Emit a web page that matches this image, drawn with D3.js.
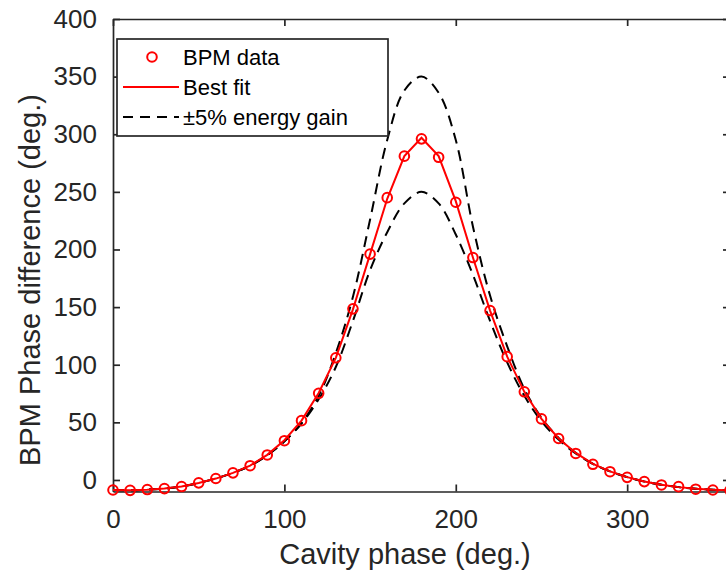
<!DOCTYPE html>
<html>
<head>
<meta charset="utf-8">
<script src="https://cdn.jsdelivr.net/npm/d3@7"></script>
<style>
  body { margin: 0; background: #fff; }
  svg { display: block; font-family: "Liberation Sans", Arial, Helvetica, sans-serif; }
</style>
</head>
<body>
<svg id="chart" width="726" height="570"></svg>
<script>
// cavity phase (deg.) sampled every 10 deg
const phase = [0, 10, 20, 30, 40, 50, 60, 70, 80, 90, 100, 110, 120, 130, 140, 150, 160, 170, 180,
    190, 200, 210, 220, 230, 240, 250, 260, 270, 280, 290, 300, 310, 320, 330, 340, 350, 360];

// BPM data points (deg.)
const bpmData = [-8.7, -9, -8.3, -7.5, -5.7, -2.5, 1.3, 6.2, 12.4, 21.7, 34.1, 51.5, 75.2, 106, 148.5, 196, 245, 281, 296,
    280, 241, 193, 147, 107, 76.5, 53, 36, 23, 13.6, 7.2, 2.3, -1.4, -4.3, -5.8, -8, -8.7, -9];

// best fit
const bestFit = [-8.7, -8.9, -8.4, -7.4, -5.6, -2.6, 1.2, 6.2, 12.5, 21.8, 34.5, 51.5, 75.5, 106, 148, 196, 244, 281, 297,
    281, 242, 193, 147, 107, 76.5, 53, 36, 23.5, 14, 7.5, 2.5, -1.3, -4.2, -6.2, -7.6, -8.5, -9];

// +5% / -5% energy gain
const upperGain = [-8.7, -8.9, -8.4, -7.4, -5.6, -2.6, 1.2, 6.2, 12.4, 21.5, 33.5, 49.5, 73, 110, 159, 226, 295, 338, 350,
    336, 295, 220, 160, 116, 79, 54, 36.5, 23.5, 14, 7.5, 2.5, -1.3, -4.2, -6.2, -7.6, -8.5, -9];
const lowerGain = [-8.7, -8.9, -8.4, -7.4, -5.6, -2.6, 1.2, 6.2, 12.4, 21.5, 33.5, 49, 70, 98, 138, 182, 215, 240, 250,
    240, 213, 178, 138, 102, 73, 51, 35, 23, 14, 7.5, 2.5, -1.3, -4.2, -6.2, -7.6, -8.5, -9];

const xTicks = [0, 100, 200, 300];
const yTicks = [0, 50, 100, 150, 200, 250, 300, 350, 400];

const legendItems = ["BPM data", "Best fit", "\u00b15% energy gain"];

const axisColor = "#262626";

const svg = d3.select("#chart");

const x = d3.scaleLinear().domain([0, 360]).range([113, 730]);
const y = d3.scaleLinear().domain([-10, 400]).range([491.5, 19]);

// axes (ticks pointing inward like matlab)
const bottomAxis = svg.append("g")
    .attr("transform", "translate(0," + y(-10) + ")")
    .call(d3.axisBottom(x).tickValues(xTicks).tickSizeInner(-7).tickSizeOuter(0).tickPadding(18));

const leftAxis = svg.append("g")
    .attr("transform", "translate(" + x(0) + ",0)")
    .call(d3.axisLeft(y).tickValues(yTicks).tickSizeInner(-7).tickSizeOuter(0).tickPadding(16));

const topAxis = svg.append("g")
    .attr("transform", "translate(0," + y(400) + ")")
    .call(d3.axisTop(x).tickValues(xTicks).tickSizeInner(-7).tickSizeOuter(0).tickFormat(""));

const rightAxis = svg.append("g")
    .attr("transform", "translate(" + x(360) + ",0)")
    .call(d3.axisRight(y).tickValues(yTicks).tickSizeInner(-7).tickSizeOuter(0).tickFormat(""));

[bottomAxis, leftAxis, topAxis, rightAxis].forEach(a => {
    a.selectAll("path, line").attr("stroke", axisColor).attr("stroke-width", 1.7);
    a.selectAll("text")
        .attr("fill", axisColor)
        .style("font-size", "26px")
        .style("font-family", "'Liberation Sans', Arial, sans-serif");
});

// axis labels
svg.append("text")
    .attr("x", 405)
    .attr("y", 564)
    .attr("text-anchor", "middle")
    .attr("fill", axisColor)
    .style("font-size", "29px")
    .text("Cavity phase (deg.)");

svg.append("text")
    .attr("transform", "translate(40,280) rotate(-90)")
    .attr("text-anchor", "middle")
    .attr("fill", axisColor)
    .style("font-size", "29px")
    .text("BPM Phase difference (deg.)");

// curves
const line = (vals, curve) => d3.line()
    .curve(curve)
    .x((d, i) => x(phase[i]))
    .y(d => y(d))(vals);

svg.append("path")
    .attr("d", line(upperGain, d3.curveCatmullRom))
    .attr("fill", "none")
    .attr("stroke", "#000")
    .attr("stroke-width", 2)
    .attr("stroke-dasharray", "11,7");

svg.append("path")
    .attr("d", line(lowerGain, d3.curveCatmullRom))
    .attr("fill", "none")
    .attr("stroke", "#000")
    .attr("stroke-width", 2)
    .attr("stroke-dasharray", "11,7");

svg.append("path")
    .attr("d", line(bestFit, d3.curveLinear))
    .attr("fill", "none")
    .attr("stroke", "#ff0000")
    .attr("stroke-width", 2);

svg.selectAll(".pt")
    .data(bpmData)
    .join("circle")
    .attr("class", "pt")
    .attr("cx", (d, i) => x(phase[i]))
    .attr("cy", d => y(d))
    .attr("r", 4.8)
    .attr("fill", "none")
    .attr("stroke", "#ff0000")
    .attr("stroke-width", 2);

// legend
const legend = svg.append("g").attr("transform", "translate(117,39)");

legend.append("rect")
    .attr("width", 271)
    .attr("height", 97)
    .attr("fill", "#fff")
    .attr("stroke", axisColor)
    .attr("stroke-width", 1.7);

const rowY = [18, 48, 78];

legend.append("circle")
    .attr("cx", 35)
    .attr("cy", rowY[0])
    .attr("r", 4.8)
    .attr("fill", "none")
    .attr("stroke", "#ff0000")
    .attr("stroke-width", 2);

legend.append("line")
    .attr("x1", 6).attr("x2", 62)
    .attr("y1", rowY[1]).attr("y2", rowY[1])
    .attr("stroke", "#ff0000")
    .attr("stroke-width", 2);

legend.append("line")
    .attr("x1", 6).attr("x2", 62)
    .attr("y1", rowY[2]).attr("y2", rowY[2])
    .attr("stroke", "#000")
    .attr("stroke-width", 2)
    .attr("stroke-dasharray", "10,7");

legend.selectAll(".lt")
    .data(legendItems)
    .join("text")
    .attr("class", "lt")
    .attr("x", 66)
    .attr("y", (d, i) => rowY[i])
    .attr("dy", "0.36em")
    .attr("fill", "#000")
    .style("font-size", "22px")
    .text(d => d);
</script>
</body>
</html>
